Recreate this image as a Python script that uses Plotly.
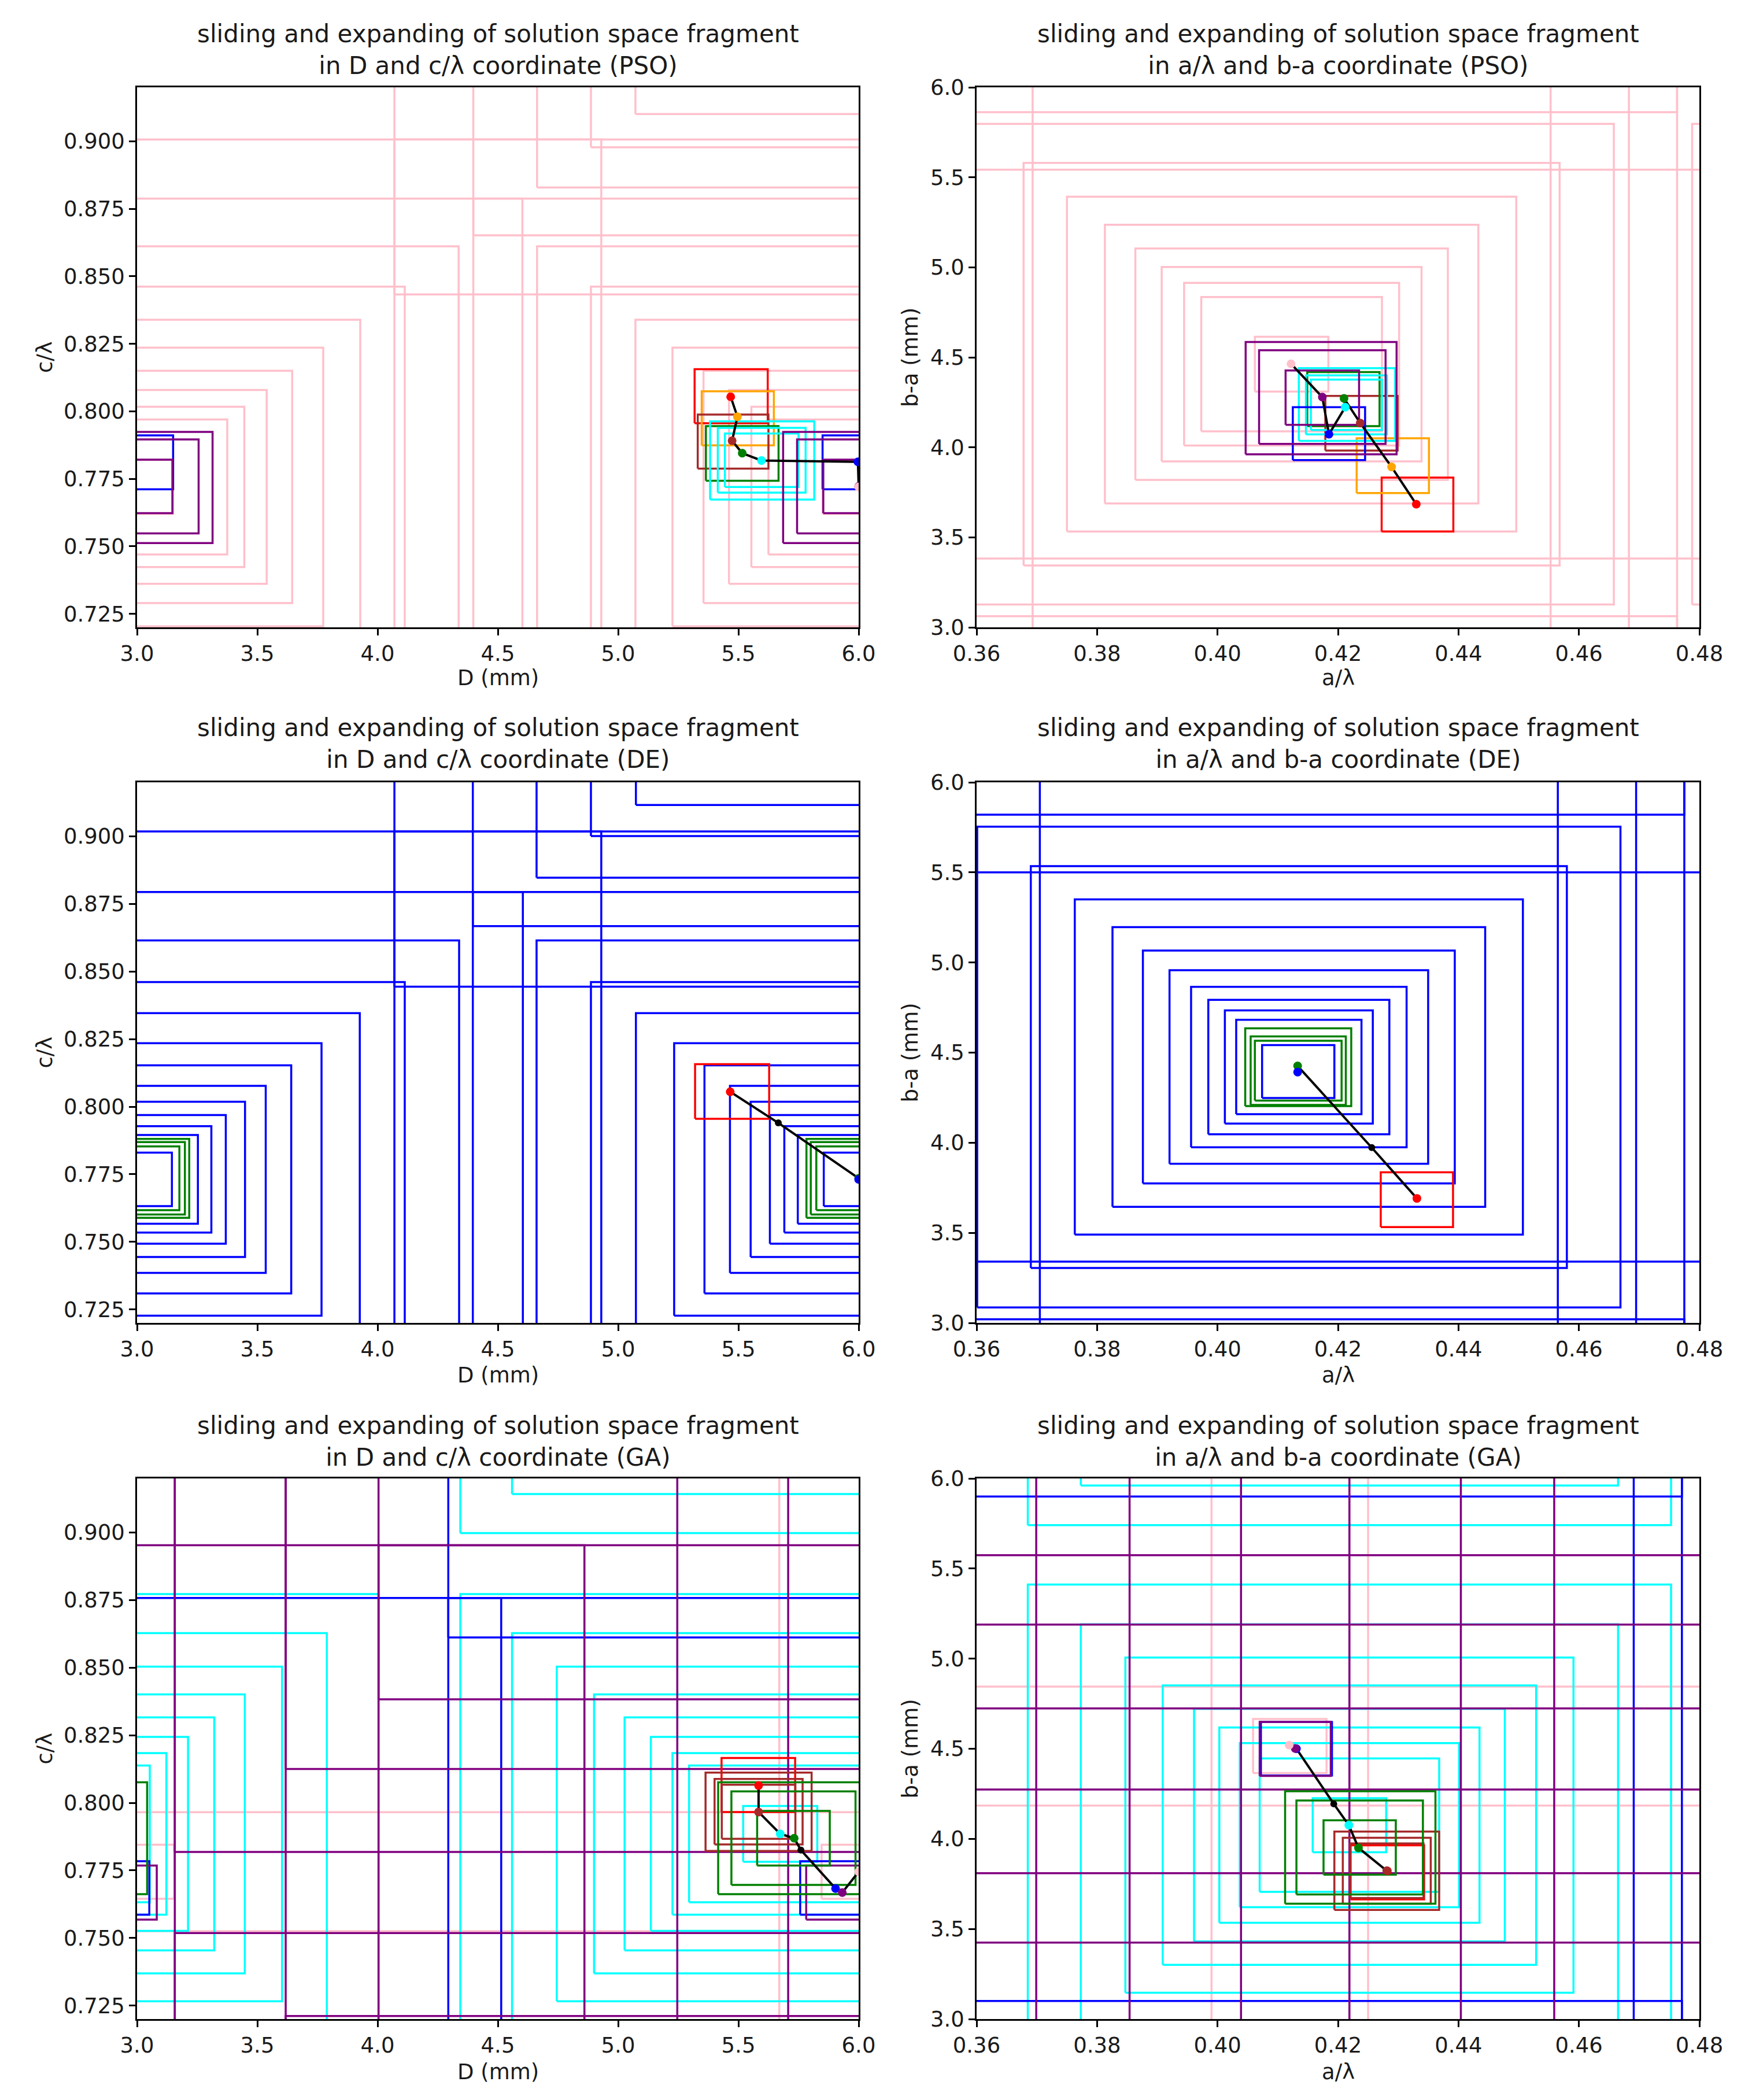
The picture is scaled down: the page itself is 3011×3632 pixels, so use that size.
import plotly.graph_objects as go
from plotly.subplots import make_subplots

# the page body adds an 8 px margin, so the figure is drawn that much smaller
OFF = 8
W, H = 3011 - OFF, 3632 - OFF

# axis windows (the search space wraps round inside them)
D_RANGE = [3.0, 6.0]
C_RANGE = [0.72, 0.92]
A_RANGE = [0.36, 0.48]
B_RANGE = [3.0, 6.0]

D_TICKS = [3.0, 3.5, 4.0, 4.5, 5.0, 5.5, 6.0]
C_TICKS = [0.725, 0.750, 0.775, 0.800, 0.825, 0.850, 0.875, 0.900]
A_TICKS = [0.36, 0.38, 0.40, 0.42, 0.44, 0.46, 0.48]
B_TICKS = [3.0, 3.5, 4.0, 4.5, 5.0, 5.5, 6.0]

# fragment boxes: (colour, centre x, centre y, half width, half height)
PSO_DC_BOXES = [
    ("pink", 6.0, 0.772, 0.150, 0.0100),
    ("pink", 6.0, 0.772, 0.375, 0.0250),
    ("pink", 6.0, 0.772, 0.446, 0.0297),
    ("pink", 6.0, 0.772, 0.539, 0.0359),
    ("pink", 6.0, 0.772, 0.645, 0.0430),
    ("pink", 6.0, 0.772, 0.774, 0.0516),
    ("pink", 6.0, 0.772, 0.928, 0.0619),
    ("pink", 6.0, 0.772, 1.113, 0.0742),
    ("pink", 6.0, 0.772, 1.337, 0.0891),
    ("pink", 6.0, 0.772, 1.602, 0.1068),
    ("pink", 6.0, 0.772, 1.930, 0.1287),
    ("red", 5.470, 0.8056, 0.152, 0.0100),
    ("orange", 5.4975, 0.7974, 0.150, 0.0100),
    ("brown", 5.478, 0.7888, 0.147, 0.0100),
    ("green", 5.516, 0.7844, 0.151, 0.0101),
    ("cyan", 5.597, 0.7819, 0.153, 0.0099),
    ("cyan", 5.597, 0.7819, 0.1825, 0.0120),
    ("cyan", 5.599, 0.7818, 0.2165, 0.0145),
    ("blue", 6.0, 0.7811, 0.150, 0.0100),
    ("purple", 6.0, 0.7722, 0.147, 0.0099),
    ("purple", 6.0, 0.7722, 0.256, 0.0174),
    ("purple", 6.0, 0.7718, 0.314, 0.0206),
]
PSO_DC_PATH = [
    (5.468, 0.8054, "red"), (5.496, 0.7980, "orange"), (5.474, 0.7891, "brown"),
    (5.516, 0.7845, "green"), (5.596, 0.7818, "cyan"), (5.997, 0.7813, "blue"),
    (6.0, 0.7722, "purple"), (6.0, 0.7720, "pink"),
]

PSO_AB_BOXES = [
    ("pink", 0.4123, 4.462, 0.0061, 0.152),
    ("pink", 0.4123, 4.462, 0.0150, 0.373),
    ("pink", 0.4123, 4.462, 0.01785, 0.4515),
    ("pink", 0.4123, 4.462, 0.02157, 0.540),
    ("pink", 0.4123, 4.462, 0.02594, 0.643),
    ("pink", 0.4123, 4.462, 0.0310, 0.774),
    ("pink", 0.4123, 4.462, 0.0373, 0.930),
    ("pink", 0.4123, 4.462, 0.0445, 1.118),
    ("pink", 0.4123, 4.462, 0.0535, 1.335),
    ("pink", 0.4123, 4.462, 0.0640, 1.600),
    ("pink", 0.4123, 4.462, 0.0770, 1.920),
    ("red", 0.4332, 3.682, 0.00595, 0.150),
    ("orange", 0.4291, 3.898, 0.0060, 0.152),
    ("brown", 0.4239, 4.134, 0.0060, 0.152),
    ("green", 0.4209, 4.268, 0.0060, 0.150),
    ("cyan", 0.4214, 4.236, 0.0059, 0.140),
    ("cyan", 0.4214, 4.236, 0.00672, 0.164),
    ("cyan", 0.4215, 4.238, 0.0080, 0.202),
    ("blue", 0.4185, 4.076, 0.0060, 0.147),
    ("purple", 0.4174, 4.276, 0.0061, 0.151),
    ("purple", 0.4174, 4.279, 0.0105, 0.260),
    ("purple", 0.4172, 4.273, 0.01253, 0.312),
]
PSO_AB_PATH = [
    (0.4330, 3.684, "red"), (0.4289, 3.891, "orange"), (0.4237, 4.135, "brown"),
    (0.4210, 4.272, "green"), (0.4212, 4.223, "cyan"), (0.4185, 4.073, "blue"),
    (0.4174, 4.279, "purple"), (0.4122, 4.464, "pink"),
]

DE_DC_BOXES = [
    ("blue", 6.0, 0.7731, 0.145, 0.0099),
    ("blue", 6.0, 0.7731, 0.253, 0.0164),
    ("blue", 6.0, 0.7731, 0.309, 0.0197),
    ("blue", 6.0, 0.7731, 0.369, 0.0238),
    ("blue", 6.0, 0.7731, 0.449, 0.0287),
    ("blue", 6.0, 0.7731, 0.535, 0.0346),
    ("blue", 6.0, 0.7731, 0.641, 0.0422),
    ("blue", 6.0, 0.7731, 0.767, 0.0504),
    ("blue", 6.0, 0.7731, 0.926, 0.0615),
    ("blue", 6.0, 0.7731, 1.113, 0.0730),
    ("blue", 6.0, 0.7731, 1.339, 0.0884),
    ("blue", 6.0, 0.7731, 1.604, 0.1063),
    ("blue", 6.0, 0.7731, 1.930, 0.1287),
    ("green", 6.0, 0.7735, 0.176, 0.0118),
    ("green", 6.0, 0.7735, 0.199, 0.0134),
    ("green", 6.0, 0.7735, 0.217, 0.0146),
    ("red", 5.474, 0.8056, 0.154, 0.0101),
]
DE_DC_PATH = [
    (5.466, 0.8055, "red"), (5.666, 0.7940, "black"),
    (6.0, 0.7735, "green"), (6.0, 0.7731, "blue"),
]

DE_AB_BOXES = [
    ("blue", 0.4134, 4.395, 0.0060, 0.147),
    ("blue", 0.4135, 4.42, 0.0104, 0.262),
    ("blue", 0.4135, 4.42, 0.01228, 0.314),
    ("blue", 0.4135, 4.42, 0.01503, 0.373),
    ("blue", 0.4135, 4.42, 0.01789, 0.445),
    ("blue", 0.4135, 4.42, 0.02147, 0.537),
    ("blue", 0.4135, 4.42, 0.02589, 0.646),
    ("blue", 0.4135, 4.42, 0.03094, 0.776),
    ("blue", 0.4135, 4.42, 0.0372, 0.930),
    ("blue", 0.4135, 4.42, 0.0445, 1.115),
    ("blue", 0.4135, 4.42, 0.0534, 1.334),
    ("blue", 0.4135, 4.42, 0.0640, 1.600),
    ("blue", 0.4135, 4.42, 0.0770, 1.920),
    ("green", 0.4134, 4.400, 0.0072, 0.166),
    ("green", 0.4134, 4.400, 0.0079, 0.190),
    ("green", 0.4134, 4.419, 0.0088, 0.216),
    ("red", 0.4331, 3.684, 0.0060, 0.152),
]
DE_AB_PATH = [
    (0.4331, 3.691, "red"), (0.4256, 3.973, "black"),
    (0.4133, 4.426, "green"), (0.4133, 4.392, "blue"),
]

GA_DC_BOXES = [
    ("pink", 6.0, 0.7745, 0.154, 0.0100),
    ("pink", 6.0, 0.7745, 3.330, 0.2220),
    ("cyan", 5.674, 0.7885, 0.154, 0.0103),
    ("cyan", 5.674, 0.7885, 0.379, 0.0253),
    ("cyan", 5.674, 0.7885, 0.448, 0.0299),
    ("cyan", 5.674, 0.7885, 0.538, 0.0359),
    ("cyan", 5.674, 0.7885, 0.647, 0.0431),
    ("cyan", 5.674, 0.7885, 0.774, 0.0516),
    ("cyan", 5.674, 0.7885, 0.929, 0.0619),
    ("cyan", 5.674, 0.7885, 1.115, 0.0743),
    ("cyan", 5.674, 0.7885, 1.330, 0.0887),
    ("blue", 5.904, 0.7685, 0.147, 0.0099),
    ("blue", 5.904, 0.7685, 1.610, 0.1073),
    ("purple", 5.932, 0.7668, 0.150, 0.0100),
    ("purple", 5.932, 0.7668, 1.928, 0.1285),
    ("purple", 5.932, 0.7668, 2.314, 0.1543),
    ("purple", 5.932, 0.7668, 2.775, 0.1850),
    ("red", 5.583, 0.8066, 0.153, 0.0100),
    ("brown", 5.584, 0.7967, 0.153, 0.0100),
    ("brown", 5.584, 0.7967, 0.183, 0.0121),
    ("brown", 5.584, 0.7967, 0.2205, 0.0145),
    ("green", 5.729, 0.7869, 0.151, 0.0101),
    ("green", 5.729, 0.7869, 0.258, 0.0173),
    ("green", 5.729, 0.7869, 0.313, 0.0207),
]
GA_DC_PATH = [
    (5.584, 0.8064, "red"), (5.584, 0.7966, "brown"), (5.674, 0.7885, "cyan"),
    (5.732, 0.7869, "green"), (5.760, 0.7825, "black"), (5.904, 0.7683, "blue"),
    (5.932, 0.7668, "purple"), (6.0, 0.7745, "pink"),
]

GA_AB_BOXES = [
    ("pink", 0.4120, 4.515, 0.0061, 0.150),
    ("pink", 0.4120, 4.515, 0.1330, 3.330),
    ("cyan", 0.4219, 4.076, 0.0061, 0.150),
    ("cyan", 0.4219, 4.076, 0.0149, 0.370),
    ("cyan", 0.4219, 4.076, 0.0182, 0.455),
    ("cyan", 0.4219, 4.076, 0.0216, 0.542),
    ("cyan", 0.4219, 4.076, 0.0258, 0.645),
    ("cyan", 0.4219, 4.076, 0.0310, 0.775),
    ("cyan", 0.4219, 4.076, 0.0372, 0.930),
    ("cyan", 0.4219, 4.076, 0.0446, 1.115),
    ("cyan", 0.4219, 4.076, 0.0534, 1.335),
    ("blue", 0.4131, 4.500, 0.0059, 0.148),
    ("blue", 0.4131, 4.500, 0.0640, 1.600),
    ("purple", 0.4129, 4.499, 0.0059, 0.150),
    ("purple", 0.4129, 4.499, 0.0770, 1.925),
    ("purple", 0.4129, 4.499, 0.0925, 2.310),
    ("purple", 0.4129, 4.499, 0.1110, 2.775),
    ("red", 0.4282, 3.8145, 0.0061, 0.150),
    ("brown", 0.4281, 3.823, 0.0061, 0.152),
    ("brown", 0.4281, 3.823, 0.0073, 0.183),
    ("brown", 0.4281, 3.823, 0.0087, 0.217),
    ("green", 0.4236, 3.952, 0.0060, 0.151),
    ("green", 0.4236, 3.952, 0.0105, 0.2605),
    ("green", 0.4237, 3.952, 0.01248, 0.312),
]
GA_AB_PATH = [
    (0.4282, 3.822, "red"), (0.4281, 3.823, "brown"), (0.4234, 3.950, "green"),
    (0.4218, 4.076, "cyan"), (0.4193, 4.194, "black"), (0.4131, 4.500, "blue"),
    (0.4129, 4.502, "purple"), (0.4119, 4.520, "pink"),
]

TITLE_1 = "sliding and expanding of solution space fragment"
PANELS = [
    (1, 1, "in D and c/λ coordinate (PSO)", PSO_DC_BOXES, PSO_DC_PATH, "dc"),
    (1, 2, "in a/λ and b-a coordinate (PSO)", PSO_AB_BOXES, PSO_AB_PATH, "ab"),
    (2, 1, "in D and c/λ coordinate (DE)", DE_DC_BOXES, DE_DC_PATH, "dc"),
    (2, 2, "in a/λ and b-a coordinate (DE)", DE_AB_BOXES, DE_AB_PATH, "ab"),
    (3, 1, "in D and c/λ coordinate (GA)", GA_DC_BOXES, GA_DC_PATH, "dc"),
    (3, 2, "in a/λ and b-a coordinate (GA)", GA_AB_BOXES, GA_AB_PATH, "ab"),
]

# pixel boxes of the axes in the picture (screen pixels)
COL_PX = {1: (237, 1485), 2: (1689, 2939)}
ROW_PX = {1: (151, 1085), 2: (1353, 2288), 3: (2557, 3492)}
TITLE_Y = {1: 86, 2: 1286, 3: 2493}
XLABEL_Y = {1: 1172, 2: 2378, 3: 3583}
YLABEL_X = {1: 77, 2: 1574}

FONT = "DejaVu Sans"
INK = "#1a1a1a"


def fx(px):
    return (px - OFF) / W


def fy(py):
    return 1 - (py - OFF) / H


def outline(boxes, colour, xr, yr):
    """box edges for one colour, copied across the wrapped edges"""
    px, py = xr[1] - xr[0], yr[1] - yr[0]
    xs, ys = [], []
    for c, cx, cy, hw, hh in boxes:
        if c != colour:
            continue
        shifts = [(0, 0)]
        if cx - hw < xr[0]:
            shifts.append((px, 0))
        if cx + hw > xr[1]:
            shifts.append((-px, 0))
        if cy - hh < yr[0]:
            shifts.append((0, py))
        if cy + hh > yr[1]:
            shifts.append((0, -py))
        for dx, dy in shifts:
            x0, x1 = cx - hw + dx, cx + hw + dx
            y0, y1 = cy - hh + dy, cy + hh + dy
            xs += [x0, x1, x1, x0, x0, None]
            ys += [y0, y0, y1, y1, y0, None]
    return xs, ys


fig = make_subplots(rows=3, cols=2)

for row, col, title2, boxes, path, kind in PANELS:
    xr, yr = (D_RANGE, C_RANGE) if kind == "dc" else (A_RANGE, B_RANGE)
    colours = []
    for b in boxes:
        if b[0] not in colours:
            colours.append(b[0])
    for colour in colours:
        xs, ys = outline(boxes, colour, xr, yr)
        fig.add_trace(go.Scatter(x=xs, y=ys, mode="lines",
                                 line=dict(color=colour, width=3.5),
                                 hoverinfo="skip", showlegend=False),
                      row=row, col=col)
    fig.add_trace(go.Scatter(x=[p[0] for p in path], y=[p[1] for p in path],
                             mode="lines+markers",
                             line=dict(color="black", width=4),
                             marker=dict(color="black", size=12),
                             showlegend=False),
                  row=row, col=col)
    pts = [p for p in path if p[2] != "black"]
    fig.add_trace(go.Scatter(x=[p[0] for p in pts], y=[p[1] for p in pts],
                             mode="markers",
                             marker=dict(color=[p[2] for p in pts], size=15),
                             showlegend=False),
                  row=row, col=col)

    if kind == "dc":
        xticks, xfmt, yticks, yfmt = D_TICKS, "{:.1f}", C_TICKS, "{:.3f}"
        xlabel, ylabel = "D (mm)", "c/λ"
    else:
        xticks, xfmt, yticks, yfmt = A_TICKS, "{:.2f}", B_TICKS, "{:.1f}"
        xlabel, ylabel = "a/λ", "b-a (mm)"

    c0, c1 = COL_PX[col]
    r0, r1 = ROW_PX[row]
    axis_style = dict(showline=True, mirror=True, linecolor="black", linewidth=2.5,
                      ticks="outside", ticklen=11, tickwidth=2.5, tickcolor="black",
                      showgrid=False, zeroline=False, automargin=False,
                      tickfont=dict(family=FONT, size=37, color=INK))
    fig.update_xaxes(range=xr, domain=[fx(c0), fx(c1)],
                     tickvals=xticks, ticktext=[xfmt.format(v) for v in xticks],
                     row=row, col=col, **axis_style)
    fig.update_yaxes(range=yr, domain=[fy(r1), fy(r0)],
                     tickvals=yticks, ticktext=[yfmt.format(v) for v in yticks],
                     row=row, col=col, **axis_style)

    fig.add_annotation(text=TITLE_1 + "<br>" + title2, xref="paper", yref="paper",
                       x=fx((c0 + c1) / 2), y=fy(TITLE_Y[row]),
                       xanchor="center", yanchor="middle", showarrow=False,
                       font=dict(family=FONT, size=42, color=INK))
    fig.add_annotation(text=xlabel, xref="paper", yref="paper",
                       x=fx((c0 + c1) / 2), y=fy(XLABEL_Y[row]),
                       xanchor="center", yanchor="middle", showarrow=False,
                       font=dict(family=FONT, size=37, color=INK))
    fig.add_annotation(text=ylabel, xref="paper", yref="paper", textangle=-90,
                       x=fx(YLABEL_X[col]), y=fy((r0 + r1) / 2),
                       xanchor="center", yanchor="middle", showarrow=False,
                       font=dict(family=FONT, size=37, color=INK))

fig.update_layout(width=W, height=H, margin=dict(l=0, r=0, t=0, b=0, pad=0),
                  paper_bgcolor="white", plot_bgcolor="white",
                  showlegend=False)

fig.write_html("out.html")
